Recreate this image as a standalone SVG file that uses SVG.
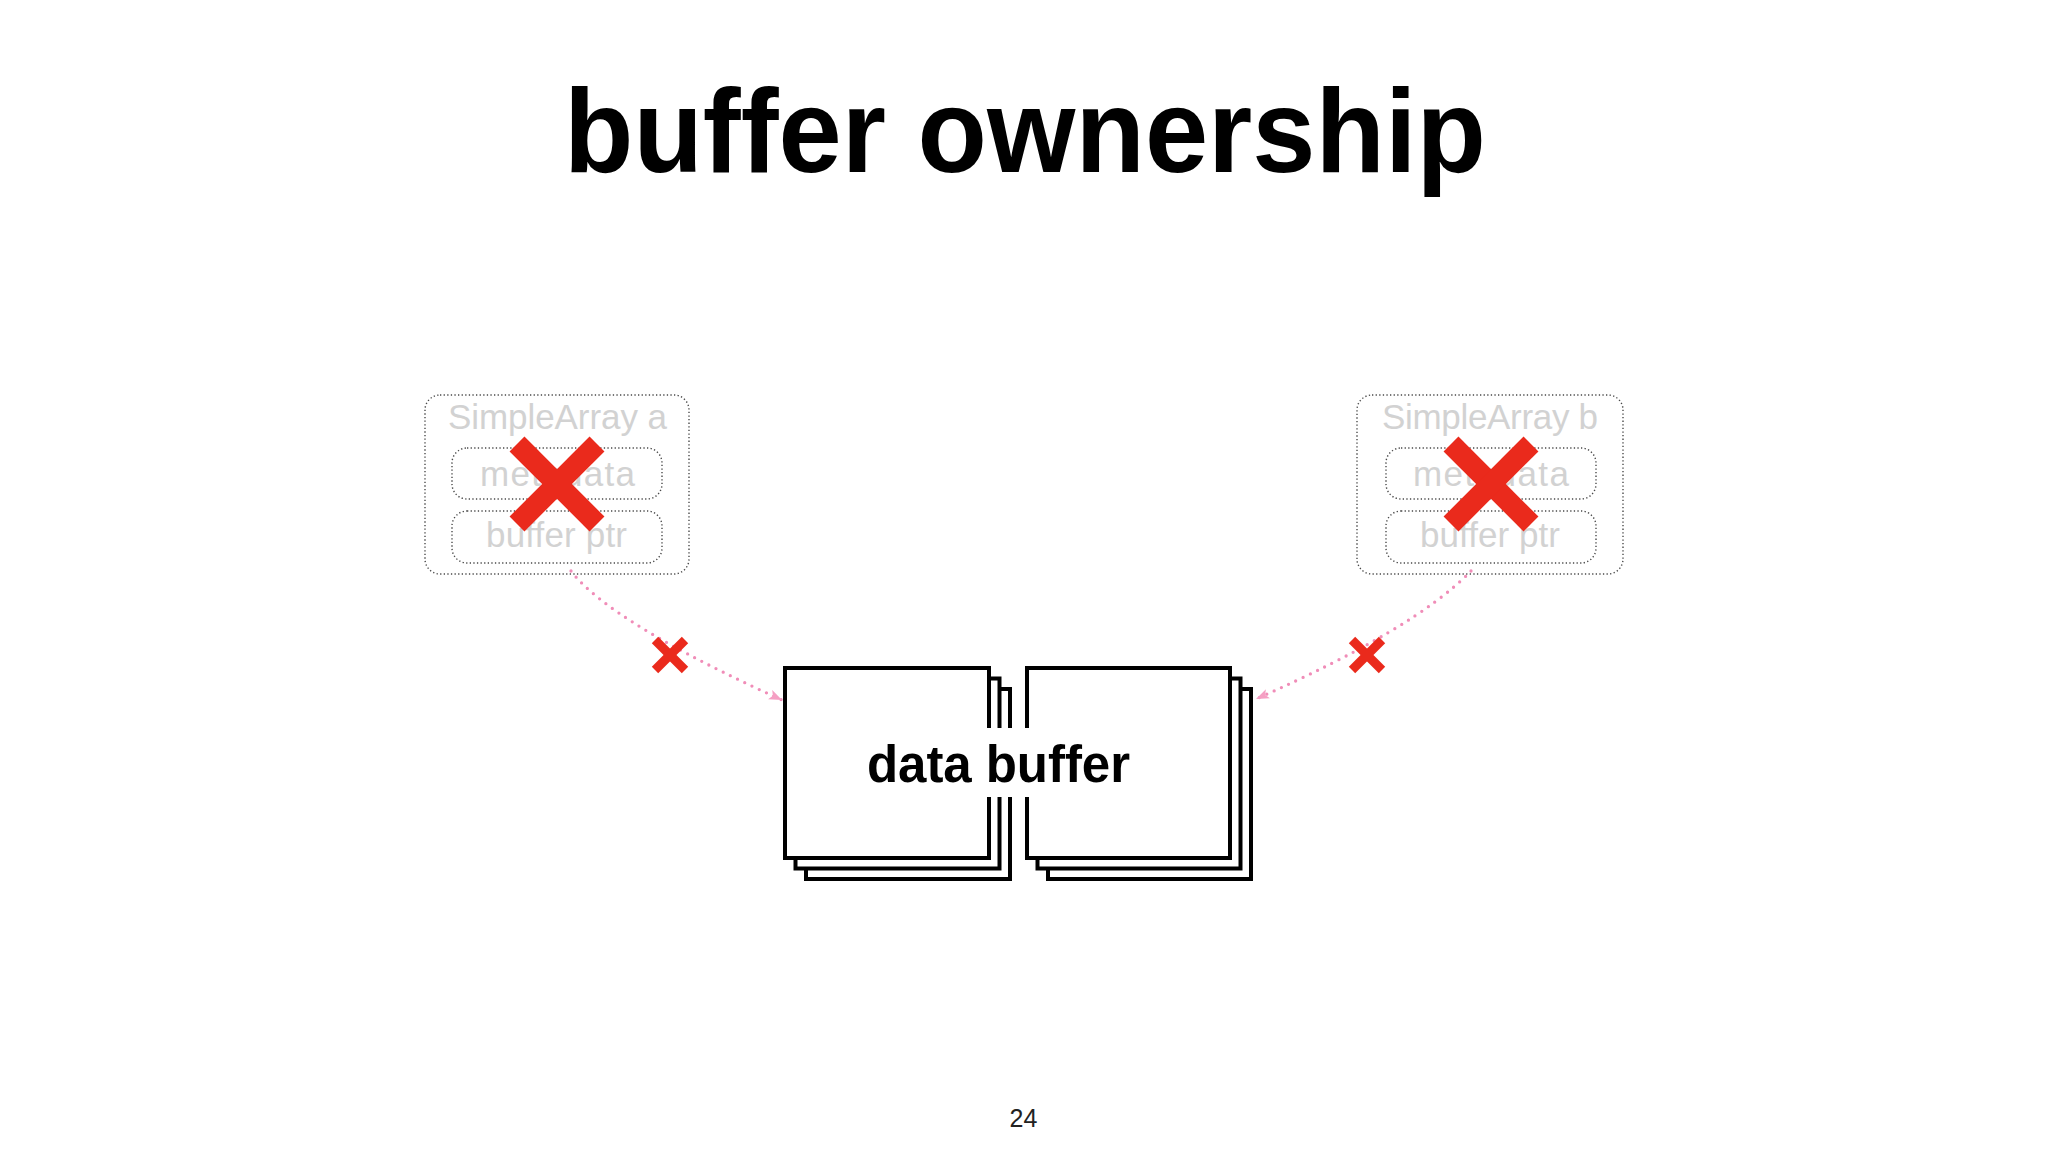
<svg xmlns="http://www.w3.org/2000/svg" width="2048" height="1152" viewBox="0 0 2048 1152">
  <style>
    .title { font-family: "Liberation Sans", Arial, sans-serif; font-weight: bold; font-size: 118px; fill: #000; }
    .ghost { font-family: "Liberation Sans", Arial, sans-serif; font-size: 35px; fill: #D2D2D2; text-anchor: middle; }
    .dotbox { fill: none; stroke: #4a4a4a; stroke-width: 1.4; stroke-dasharray: 1.3 2.3; }
    .bigx { stroke: #EA2A1C; stroke-width: 21; stroke-linecap: butt; }
    .smallx { stroke: #EA2A1C; stroke-width: 9; stroke-linecap: butt; }
    .page { fill: #fff; stroke: #000; stroke-width: 4; }
    .conn { fill: none; stroke: #F08DB8; stroke-width: 3.3; stroke-linecap: round; stroke-dasharray: 0 8; }
    .label { font-family: "Liberation Sans", Arial, sans-serif; font-weight: bold; font-size: 51px; fill: #000; text-anchor: middle; }
    .pagenum { font-family: "Liberation Sans", Arial, sans-serif; font-size: 25px; fill: #222; text-anchor: middle; }
  </style>
  <defs>
    <marker id="arrow" markerUnits="userSpaceOnUse" markerWidth="14" markerHeight="12" refX="13" refY="5" orient="auto">
      <path d="M0,0 L13,5 L0,10 L3,5 z" fill="#F59FC3"/>
    </marker>
  </defs>
  <rect width="2048" height="1152" fill="#fff"/>

  <text class="title" x="564" y="172" textLength="922" lengthAdjust="spacingAndGlyphs">buffer ownership</text>

  <g id="simplearray-a">
    <rect class="dotbox" x="425" y="395" width="264" height="179" rx="15"/>
    <text class="ghost" x="557.5" y="429" textLength="219">SimpleArray a</text>
    <rect class="dotbox" x="452" y="448" width="210" height="51" rx="15"/>
    <text class="ghost" x="557.5" y="486" textLength="155">metadata</text>
    <rect class="dotbox" x="452" y="511" width="210" height="52" rx="15"/>
    <text class="ghost" x="556.5" y="547" textLength="141">buffer ptr</text>
    <line class="bigx" x1="517" y1="444" x2="597" y2="524"/>
    <line class="bigx" x1="597" y1="444" x2="517" y2="524"/>
  </g>

  <g id="simplearray-b">
    <rect class="dotbox" x="1357" y="395" width="266" height="179" rx="15"/>
    <text class="ghost" x="1490" y="429" textLength="216">SimpleArray b</text>
    <rect class="dotbox" x="1386" y="448" width="210" height="51" rx="15"/>
    <text class="ghost" x="1491" y="486" textLength="156">metadata</text>
    <rect class="dotbox" x="1386" y="511" width="210" height="52" rx="15"/>
    <text class="ghost" x="1490" y="547" textLength="140">buffer ptr</text>
    <line class="bigx" x1="1451" y1="444" x2="1531" y2="524"/>
    <line class="bigx" x1="1531" y1="444" x2="1451" y2="524"/>
  </g>

  <g id="data-buffer">
    <rect class="page" x="806" y="689" width="204" height="190"/>
    <rect class="page" x="795.5" y="678.5" width="204" height="190"/>
    <rect class="page" x="785" y="668" width="204" height="190"/>
    <rect class="page" x="1048" y="689" width="203" height="190"/>
    <rect class="page" x="1037.5" y="678.5" width="203" height="190"/>
    <rect class="page" x="1027" y="668" width="203" height="190"/>
    <rect x="862" y="728" width="273" height="69" fill="#fff"/>
    <text class="label" x="998.5" y="782" textLength="263">data buffer</text>
  </g>

  <g id="connectors">
    <path class="conn" d="M571,571 Q610,622 782,700" marker-end="url(#arrow)"/>
    <path class="conn" d="M1471,571 Q1415,629 1256,699" marker-end="url(#arrow)"/>
    <line class="smallx" x1="655" y1="640" x2="685" y2="670"/>
    <line class="smallx" x1="685" y1="640" x2="655" y2="670"/>
    <line class="smallx" x1="1352" y1="640" x2="1382" y2="670"/>
    <line class="smallx" x1="1382" y1="640" x2="1352" y2="670"/>
  </g>

  <text class="pagenum" x="1023.5" y="1127">24</text>
</svg>
